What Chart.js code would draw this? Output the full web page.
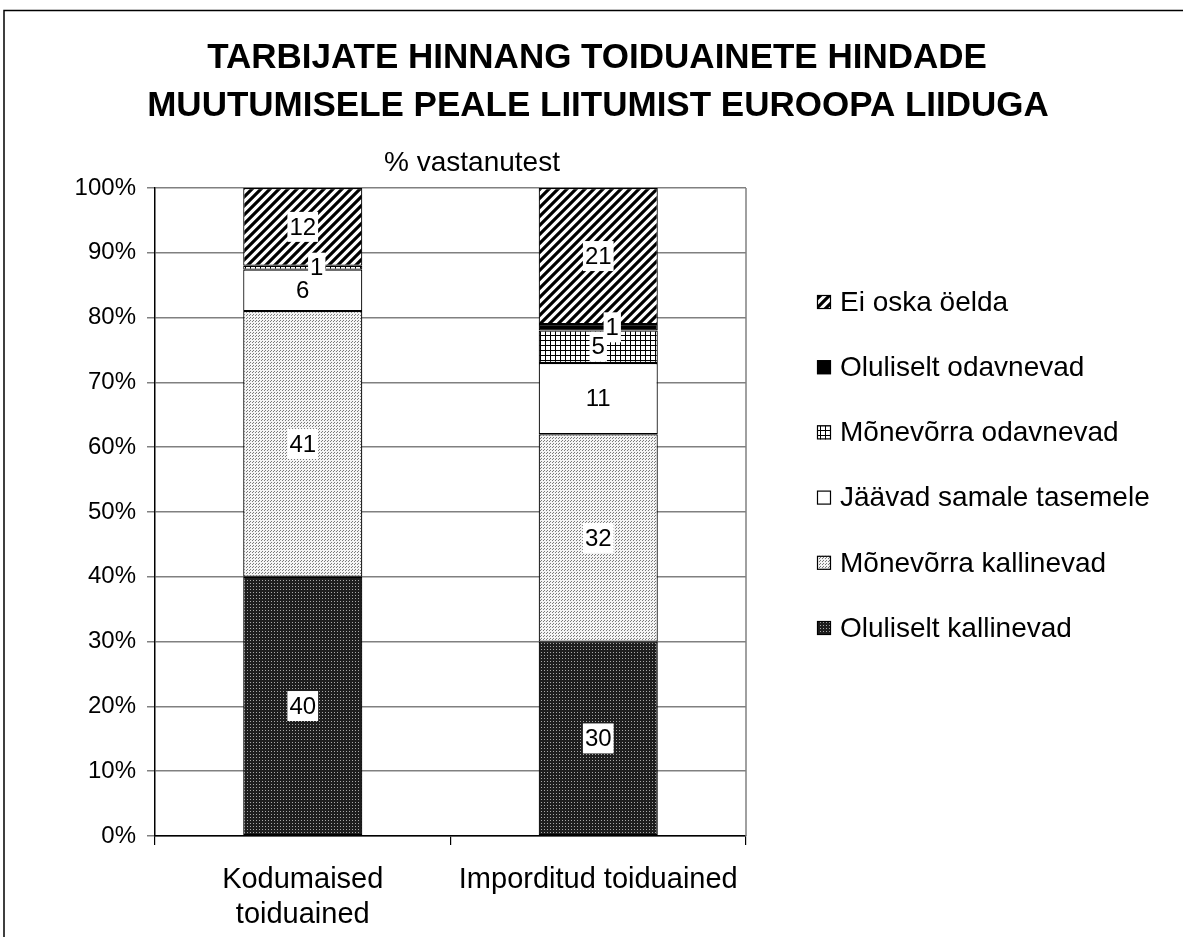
<!DOCTYPE html>
<html>
<head>
<meta charset="utf-8">
<script src="https://cdn.jsdelivr.net/npm/chart.js@4"></script>
<style>
  html, body { margin: 0; padding: 0; background: #fff; }
  #wrap { width: 1183px; height: 937px; position: relative; }
</style>
</head>
<body>
<div id="wrap"><canvas id="chart" width="1183" height="937"></canvas></div>
<script>
  'use strict';

  // ── Data ──────────────────────────────────────────────────────────
  var categories = [['Kodumaised', 'toiduained'], 'Imporditud toiduained'];
  var seriesNames = [
    'Oluliselt kallinevad',
    'Mõnevõrra kallinevad',
    'Jäävad samale tasemele',
    'Mõnevõrra odavnevad',
    'Oluliselt odavnevad',
    'Ei oska öelda'
  ];
  var oluliseltKallinevad = [40, 30];
  var monevorraKallinevad = [41, 32];
  var samaleTasemele = [6.4, 11];
  var monevorraOdavnevad = [0.6, 5];
  var oluliseltOdavnevad = [0, 1];
  var eiOskaOelda = [12, 21];
  var yTicks = [0, 10, 20, 30, 40, 50, 60, 70, 80, 90, 100];

  var titleLines = ['TARBIJATE HINNANG TOIDUAINETE HINDADE', 'MUUTUMISELE PEALE LIITUMIST EUROOPA LIIDUGA'];
  var subtitle = '% vastanutest';

  var FONT = '"Liberation Sans", Arial, sans-serif';

  /** Build a repeating canvas pattern from a small tile */
  function makePattern(size, draw) {
    var c = document.createElement('canvas');
    c.width = c.height = size;
    var g = c.getContext('2d');
    draw(g, size);
    return g.createPattern(c, 'repeat');
  }

  var patDark = makePattern(3, function (g) {
    g.fillStyle = '#1e1e1e'; g.fillRect(0, 0, 3, 3);
    g.fillStyle = '#a8a8a8'; g.fillRect(1, 1, 1, 1);
  });
  var patLight = makePattern(3, function (g) {
    g.fillStyle = '#f4f4f4'; g.fillRect(0, 0, 3, 3);
    g.fillStyle = '#7a7a7a'; g.fillRect(0, 0, 1, 1); g.fillRect(1, 2, 1, 1);
  });
  var patGrid = makePattern(5, function (g) {
    g.fillStyle = '#fff'; g.fillRect(0, 0, 5, 5);
    g.fillStyle = '#000'; g.fillRect(0, 0, 5, 1); g.fillRect(0, 0, 1, 5);
  });
  var patDiag = makePattern(9, function (g, s) {
    g.fillStyle = '#fff'; g.fillRect(0, 0, s, s);
    g.strokeStyle = '#000'; g.lineWidth = 3.2;
    g.beginPath();
    g.moveTo(-2, s + 2); g.lineTo(s + 2, -2);
    g.moveTo(-s / 2 - 2, s / 2 + 2); g.lineTo(s / 2 + 2, -s / 2 - 2);
    g.moveTo(s / 2 - 2, s * 1.5 + 2); g.lineTo(s * 1.5 + 2, s / 2 - 2);
    g.stroke();
  });

  var fills = [patDark, patLight, '#ffffff', patGrid, '#000000', patDiag];
  var seriesData = [oluliseltKallinevad, monevorraKallinevad, samaleTasemele,
    monevorraOdavnevad, oluliseltOdavnevad, eiOskaOelda];

  var datasets = seriesNames.map(function (name, i) {
    return {
      label: name,
      data: seriesData[i],
      backgroundColor: fills[i],
      borderColor: '#000',
      borderWidth: 1.2,
      borderSkipped: false,
      categoryPercentage: 0.403,
      barPercentage: 1
    };
  });

  /** Titles, frame, legend and the value boxes */
  var decorations = {
    id: 'decorations',
    beforeDatasetsDraw: function (chart) {
      var ctx = chart.ctx, a = chart.chartArea;
      ctx.save();
      ctx.strokeStyle = '#808080';
      ctx.lineWidth = 1.5;
      ctx.beginPath();
      ctx.moveTo(a.right, a.top);
      ctx.lineTo(a.right, a.bottom);
      ctx.stroke();
      ctx.restore();
    },
    afterDatasetsDraw: function (chart) {
      var ctx = chart.ctx;
      ctx.save();
      ctx.font = '24px ' + FONT;
      ctx.textAlign = 'center';
      ctx.textBaseline = 'middle';
      chart.data.datasets.forEach(function (ds, i) {
        var meta = chart.getDatasetMeta(i);
        meta.data.forEach(function (bar, j) {
          var v = ds.data[j];
          if (!v) return;
          var txt = String(Math.round(v));
          var cx = bar.x + (v < 2 ? 14 : 0);
          var cy = (bar.y + bar.base) / 2;
          var w = ctx.measureText(txt).width + 4;
          ctx.fillStyle = '#fff';
          ctx.fillRect(cx - w / 2, cy - 15, w, 30);
          ctx.fillStyle = '#000';
          ctx.fillText(txt, cx, cy + 1);
        });
      });
      ctx.restore();
    },
    afterDraw: function (chart) {
      var ctx = chart.ctx;
      ctx.save();
      // outer frame
      ctx.strokeStyle = '#000';
      ctx.lineWidth = 1.5;
      ctx.beginPath();
      ctx.moveTo(4, 940);
      ctx.lineTo(4, 10.5);
      ctx.lineTo(1190, 10.5);
      ctx.stroke();

      // title
      ctx.fillStyle = '#000';
      ctx.textAlign = 'center';
      ctx.textBaseline = 'middle';
      ctx.font = 'bold 35px ' + FONT;
      ctx.fillText(titleLines[0], 597, 58);
      ctx.fillText(titleLines[1], 598, 106);
      ctx.font = '28px ' + FONT;
      ctx.fillText(subtitle, 472, 163);

      // legend, top item is the last series
      ctx.textAlign = 'left';
      ctx.font = '28px ' + FONT;
      var n = chart.data.datasets.length;
      for (var k = 0; k < n; k++) {
        var ds = chart.data.datasets[n - 1 - k];
        var y = 302 + k * 65.2;
        ctx.fillStyle = ds.backgroundColor;
        ctx.fillRect(817, y - 7, 14, 14);
        ctx.strokeStyle = '#000';
        ctx.lineWidth = 1.2;
        ctx.strokeRect(817.5, y - 6.5, 13, 13);
        ctx.fillStyle = '#000';
        ctx.fillText(ds.label, 840, y + 1);
      }
      ctx.restore();
    }
  };

  new Chart(document.getElementById('chart'), {
    type: 'bar',
    data: { labels: categories, datasets: datasets },
    plugins: [decorations],
    options: {
      responsive: false,
      animation: false,
      layout: { padding: { left: 5, right: 437, top: 188, bottom: 6 } },
      plugins: {
        legend: { display: false },
        title: { display: false },
        tooltip: { enabled: false }
      },
      scales: {
        x: {
          stacked: true,
          afterFit: function (s) { s.height = 95; },
          grid: { offset: true, drawOnChartArea: false, tickLength: 9, color: '#000', lineWidth: 1.2 },
          border: { color: '#000', width: 1.5 },
          ticks: { color: '#000', padding: 18, font: { family: FONT, size: 29 } }
        },
        y: {
          stacked: true,
          min: 0,
          max: 100,
          afterFit: function (s) { s.width = 150; },
          afterBuildTicks: function (s) { s.ticks = yTicks.map(function (v) { return { value: v }; }); },
          grid: { color: '#808080', lineWidth: 1.5, tickLength: 8 },
          border: { color: '#000', width: 1.5 },
          ticks: {
            color: '#000',
            padding: 11,
            font: { family: FONT, size: 24 },
            callback: function (v) { return v + '%'; }
          }
        }
      }
    }
  });
</script>
</body>
</html>
